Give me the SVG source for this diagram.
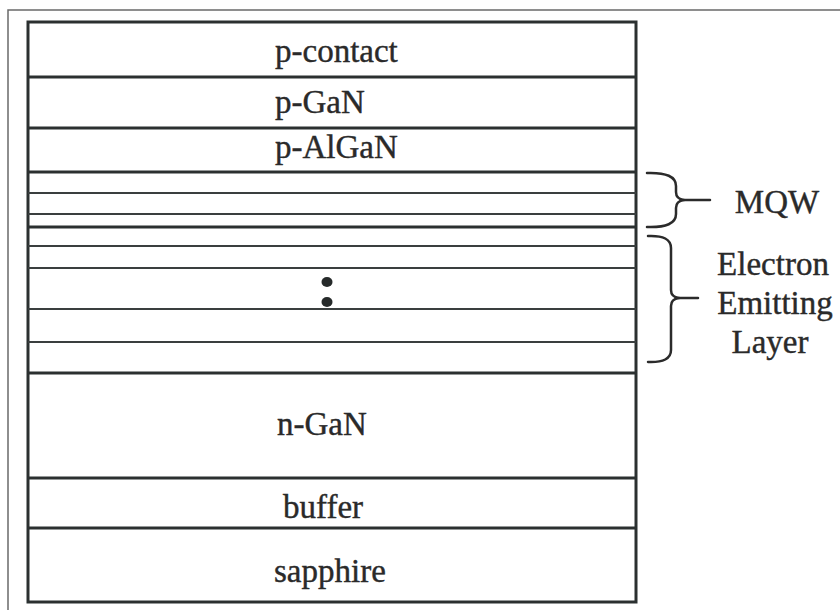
<svg xmlns="http://www.w3.org/2000/svg" width="840" height="610" viewBox="0 0 840 610">
  <rect x="0" y="0" width="840" height="610" fill="#ffffff"/>
  <!-- outer figure frame (open to the right and bottom) -->
  <path d="M840,10 L8,10 L8,610" fill="none" stroke="#6a6a6a" stroke-width="1.5"/>

  <!-- layer stack outline -->
  <rect x="28" y="22" width="608" height="580" fill="#ffffff" stroke="#2b3030" stroke-width="3"/>

  <g font-family="Liberation Serif, serif" font-size="33" fill="#2a2a2a">
    <g id="p-contact">
      <text x="275" y="62" stroke="#2a2a2a" stroke-width="0.4">p-contact</text>
    </g>
    <g id="p-GaN">
      <line x1="28" y1="77" x2="636" y2="77" stroke="#2b3030" stroke-width="3"/>
      <text x="275" y="113" stroke="#2a2a2a" stroke-width="0.4">p-GaN</text>
    </g>
    <g id="p-AlGaN">
      <line x1="28" y1="128" x2="636" y2="128" stroke="#2b3030" stroke-width="3"/>
      <text x="275" y="158" stroke="#2a2a2a" stroke-width="0.4">p-AlGaN</text>
    </g>
    <g id="mqw-layers">
      <line x1="28" y1="172" x2="636" y2="172" stroke="#2b3030" stroke-width="3"/>
      <line x1="28" y1="193" x2="636" y2="193" stroke="#3a3f3f" stroke-width="2"/>
      <line x1="28" y1="214" x2="636" y2="214" stroke="#3a3f3f" stroke-width="2"/>
      <line x1="28" y1="227" x2="636" y2="227" stroke="#2b3030" stroke-width="3"/>
    </g>
    <g id="emitting-layers">
      <line x1="28" y1="246" x2="636" y2="246" stroke="#3a3f3f" stroke-width="2"/>
      <line x1="28" y1="268" x2="636" y2="268" stroke="#3a3f3f" stroke-width="2"/>
      <ellipse cx="327" cy="282" rx="5.5" ry="5" fill="#262a2a"/>
      <ellipse cx="327" cy="302" rx="5.5" ry="5" fill="#262a2a"/>
      <line x1="28" y1="309" x2="636" y2="309" stroke="#3a3f3f" stroke-width="2"/>
      <line x1="28" y1="342" x2="636" y2="342" stroke="#3a3f3f" stroke-width="2"/>
    </g>
    <g id="n-GaN">
      <line x1="28" y1="373" x2="636" y2="373" stroke="#2b3030" stroke-width="3"/>
      <text x="277" y="435" stroke="#2a2a2a" stroke-width="0.4">n-GaN</text>
    </g>
    <g id="buffer">
      <line x1="28" y1="478" x2="636" y2="478" stroke="#2b3030" stroke-width="3"/>
      <text x="283" y="518" stroke="#2a2a2a" stroke-width="0.4">buffer</text>
    </g>
    <g id="sapphire">
      <line x1="28" y1="528" x2="636" y2="528" stroke="#2b3030" stroke-width="3"/>
      <text x="274" y="582" stroke="#2a2a2a" stroke-width="0.4">sapphire</text>
    </g>

    <!-- side annotations -->
    <g id="connectors" fill="none" stroke="#2b2b2b" stroke-width="2.5" stroke-linecap="round" stroke-linejoin="round">
      <path d="M647,173 Q676,172 676,186 L676,192 Q676,199 684,200 Q676,201 676,208 L676,214 Q676,228 647,227"/>
      <line x1="684" y1="200" x2="710" y2="200"/>
      <path d="M648,236 Q671,235 671,248 L671,290 Q671,297 679,298 Q671,299 671,306 L671,350 Q671,363 648,362"/>
      <line x1="679" y1="298" x2="698" y2="298"/>
    </g>
    <g id="mqw-label" text-anchor="middle">
      <text x="777" y="213" stroke="#2a2a2a" stroke-width="0.4">MQW</text>
    </g>
    <g id="eel-label" text-anchor="middle">
      <text x="773" y="275" stroke="#2a2a2a" stroke-width="0.4">Electron</text>
      <text x="775" y="314" stroke="#2a2a2a" stroke-width="0.4">Emitting</text>
      <text x="770" y="353" stroke="#2a2a2a" stroke-width="0.4">Layer</text>
    </g>
  </g>
</svg>
